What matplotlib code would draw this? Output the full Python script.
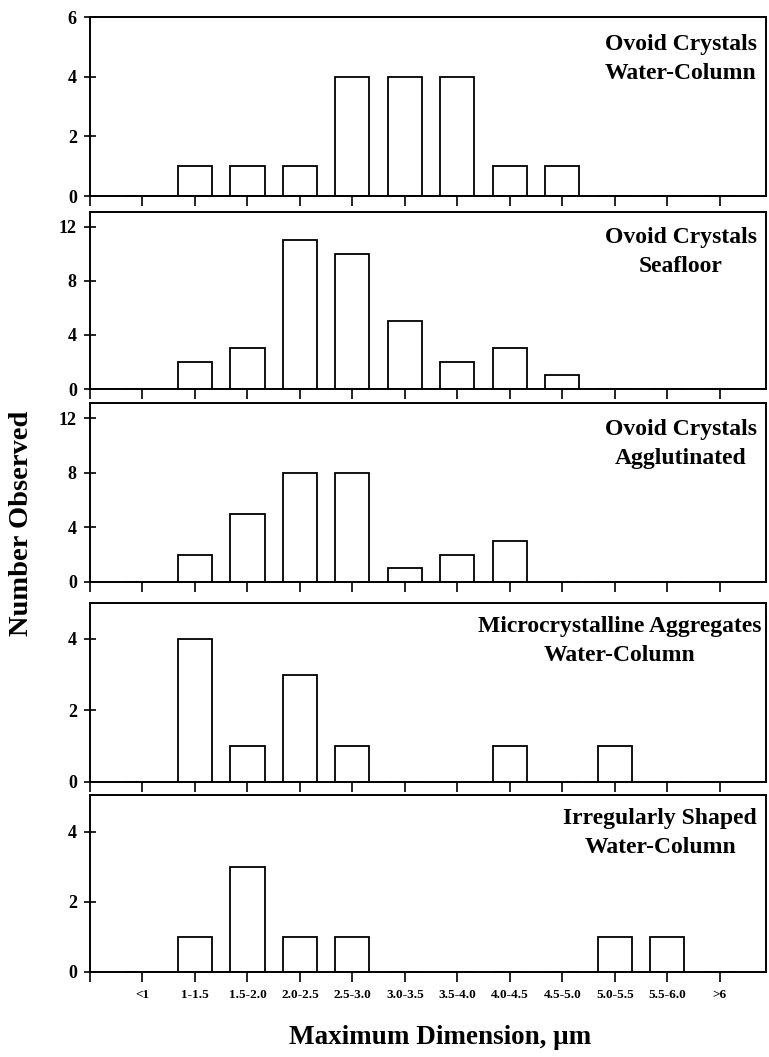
import matplotlib
matplotlib.use("Agg")
import matplotlib.pyplot as plt

plt.rcParams['font.family'] = ['Liberation Serif', 'DejaVu Serif']
plt.rcParams['font.weight'] = 'bold'

# size classes, um
size_bins = ['<1', '1-1.5', '1.5-2.0', '2.0-2.5', '2.5-3.0', '3.0-3.5',
             '3.5-4.0', '4.0-4.5', '4.5-5.0', '5.0-5.5', '5.5-6.0', '>6']

# counts per panel (top to bottom)
ovoid_water_column = [0, 1, 1, 1, 4, 4, 4, 1, 1, 0, 0, 0]
ovoid_seafloor = [0, 2, 3, 11, 10, 5, 2, 3, 1, 0, 0, 0]
ovoid_agglutinated = [0, 2, 5, 8, 8, 1, 2, 3, 0, 0, 0, 0]
micro_water_column = [0, 4, 1, 3, 1, 0, 0, 1, 0, 1, 0, 0]
irregular_water_column = [0, 1, 3, 1, 1, 0, 0, 0, 0, 1, 1, 0]

panel_titles = ['Ovoid Crystals\nWater-Column',
                'Ovoid Crystals\nSeafloor',
                'Ovoid Crystals\nAgglutinated',
                'Microcrystalline Aggregates\nWater-Column',
                'Irregularly Shaped\nWater-Column']
panel_data = [ovoid_water_column, ovoid_seafloor, ovoid_agglutinated,
              micro_water_column, irregular_water_column]
y_limits = [6, 13.1, 13.1, 5, 5.05]
y_ticks = [[0, 2, 4, 6], [0, 4, 8, 12], [0, 4, 8, 12], [0, 2, 4], [0, 2, 4]]

W, H = 769, 1057
fig = plt.figure(figsize=(W / 100, H / 100), dpi=100)

# panel frames in pixels: (top, bottom)
frames = [(17, 196), (212, 389), (403, 582), (603, 782), (795, 972)]
left_px, right_px = 90, 766
title_offsets = [(-9, -17), (-9, -15), (-9, -16), (-5, -13), (-9, -13)]

x_pos = list(range(len(size_bins)))
for i, (top, bot) in enumerate(frames):
    ax = fig.add_axes([left_px / W, 1 - bot / H, (right_px - left_px) / W, (bot - top) / H])
    ax.bar(x_pos, panel_data[i], width=0.65, facecolor='white', edgecolor='black', linewidth=1.3)
    ax.set_xlim(-1, 11.88)
    ax.set_ylim(0, y_limits[i])
    ax.set_yticks(y_ticks[i])
    ax.set_xticks([-1] + x_pos)
    if i == len(frames) - 1:
        ax.set_xticklabels([''] + size_bins, fontsize=9.5, fontweight='bold')
    else:
        ax.set_xticklabels([])
    ax.tick_params(axis='y', direction='inout', length=9, width=1.2, labelsize=13, pad=5)
    ax.tick_params(axis='x', direction='out', length=7, width=1.2, pad=5)
    for sp in ax.spines.values():
        sp.set_linewidth(1.4)
    for lab in ax.get_yticklabels():
        lab.set_fontweight('bold')
    ax.annotate(panel_titles[i], xy=(1, 1), xycoords='axes fraction',
                xytext=title_offsets[i], textcoords='offset pixels',
                ha='right', va='top', multialignment='center',
                fontsize=17, fontweight='bold', linespacing=1.5)

fig.text(22 / W, 1 - 523 / H, 'Number Observed', rotation=90, ha='center', va='center',
         fontsize=20.5, fontweight='bold')
fig.text(440 / W, 1 - 1038 / H, 'Maximum Dimension, \u03bcm', ha='center', va='center',
         fontsize=19.5, fontweight='bold')

fig.savefig('out.png', dpi=100)
